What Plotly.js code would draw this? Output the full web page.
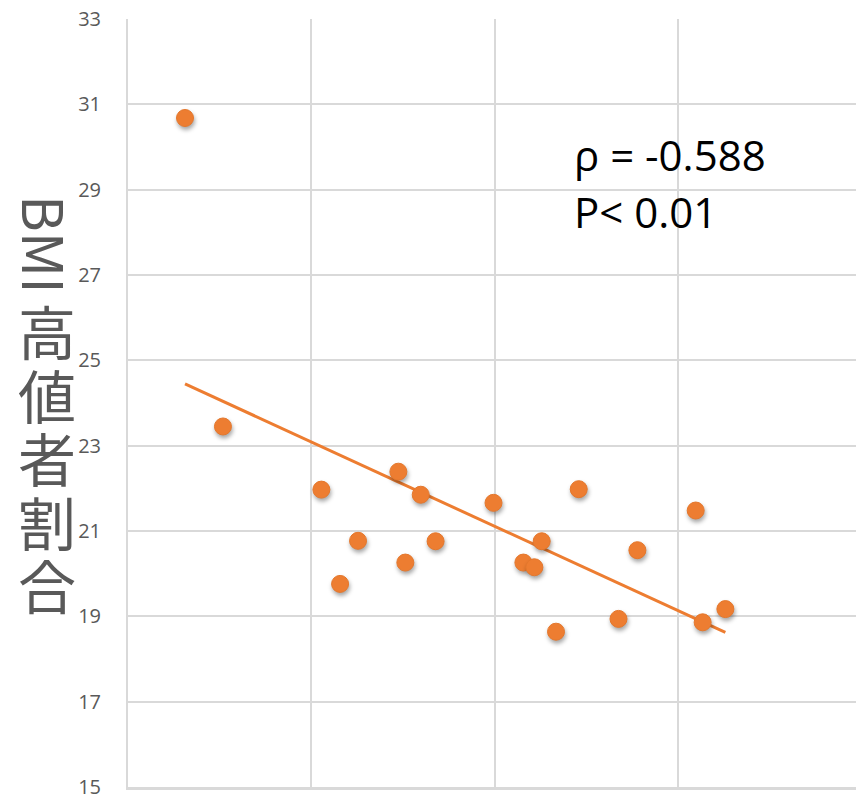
<!DOCTYPE html>
<html>
<head>
<meta charset="utf-8">
<script src="https://cdn.plot.ly/plotly-3.0.1.min.js"></script>
<style>
html,body{margin:0;padding:0;background:#fff;overflow:hidden;}
#chart{width:856px;height:794px;}
.scatterlayer .trace:last-child .points path{filter:drop-shadow(1px 3px 2px rgba(0,0,0,0.35));}
</style>
</head>
<body>
<div id="chart"></div>
<script>
// Data (x axis in grid units, y = BMI高値者割合)
const xValues = [0.311, 0.518, 1.055, 1.157, 1.255, 1.475, 1.513, 1.597, 1.678, 1.994, 2.157, 2.217, 2.257, 2.335, 2.459, 2.676, 2.779, 3.097, 3.135, 3.259];
const yValues = [30.68, 23.45, 21.97, 19.76, 20.77, 22.39, 20.26, 21.85, 20.76, 21.66, 20.26, 20.15, 20.76, 18.64, 21.98, 18.94, 20.55, 21.48, 18.86, 19.17];
const yTicks = [15, 17, 19, 21, 23, 25, 27, 29, 31, 33];
const statLines = ["ρ = -0.588", "P< 0.01"];
const yTitleLatin = "BMI";
const yTitleKanji = "高値者割合";

// least-squares trend line computed from the data
const n = xValues.length;
const mx = xValues.reduce((a, b) => a + b, 0) / n;
const my = yValues.reduce((a, b) => a + b, 0) / n;
let sxy = 0, sxx = 0;
for (let i = 0; i < n; i++) { sxy += (xValues[i] - mx) * (yValues[i] - my); sxx += (xValues[i] - mx) ** 2; }
const slope = sxy / sxx, intercept = my - slope * mx;
const xMin = Math.min(...xValues), xMax = Math.max(...xValues);
const trendX = [xMin, xMax];
const trendY = trendX.map(v => intercept + slope * v);

const W = 856, H = 794, ML = 128, MR = 0, MT = 19, MB = 7;
const plotW = W - ML - MR, plotH = H - MT - MB;
const pxToPaperX = px => (px - ML) / plotW;
const pxToPaperY = py => 1 - (py - MT) / plotH;

const orange = '#ED7D31';
const grey = '#595959';

const KANJI_SIZE = 58, KANJI_STEP = 63.5, KANJI_FIRST = 330;
const kanjiChars = Array.from(yTitleKanji);
const nominalStep = 1.3 * KANJI_SIZE;
const kanjiBlockCenter = KANJI_FIRST + (kanjiChars.length - 1) * nominalStep / 2;

const annotations = [
  {
    xref: 'paper', yref: 'paper', x: pxToPaperX(47), y: pxToPaperY(244),
    text: yTitleLatin, textangle: 90, showarrow: false, xanchor: 'center', yanchor: 'middle',
    font: {family: 'Noto Sans CJK JP', size: 56, color: grey}
  },
  {
    xref: 'paper', yref: 'paper', x: pxToPaperX(47), y: pxToPaperY(kanjiBlockCenter),
    text: kanjiChars.join('<br>'), showarrow: false, xanchor: 'center', yanchor: 'middle',
    font: {family: 'Noto Sans CJK JP', size: KANJI_SIZE, color: grey}
  }
];
statLines.forEach((t, i) => {
  annotations.push({
    xref: 'paper', yref: 'paper', x: pxToPaperX(572), y: pxToPaperY(154 + i * 57),
    text: t, showarrow: false, xanchor: 'left', yanchor: 'middle',
    font: {family: 'Open Sans', size: 42, color: '#000'}
  });
});

const data = [
  {x: trendX, y: trendY, mode: 'lines', type: 'scatter', line: {color: orange, width: 3}, hoverinfo: 'skip'},
  {x: xValues, y: yValues, mode: 'markers', type: 'scatter',
   marker: {color: orange, size: 17, line: {color: '#E4772C', width: 1}}}
];

const layout = {
  width: W, height: H,
  margin: {l: ML, r: MR, t: MT, b: MB, pad: 0},
  paper_bgcolor: '#fff', plot_bgcolor: '#fff',
  showlegend: false,
  xaxis: {
    range: [0, plotW / 183.3], dtick: 1, tick0: 0,
    showticklabels: false, ticks: '',
    showgrid: true, gridcolor: '#D9D9D9', gridwidth: 2,
    zeroline: false, showline: true, linecolor: '#D9D9D9', linewidth: 3
  },
  yaxis: {
    range: [15, 33], tickvals: yTicks, ticktext: yTicks.map(String),
    ticks: '', ticklabelstandoff: 21, ticklabeloverflow: 'allow',
    tickfont: {family: 'Open Sans', size: 20, color: grey},
    showgrid: true, gridcolor: '#D9D9D9', gridwidth: 2,
    zeroline: false, showline: true, linecolor: '#D9D9D9', linewidth: 2
  },
  annotations: annotations
};

Plotly.newPlot('chart', data, layout, {displayModeBar: false, staticPlot: true}).then(() => {
  // tighten the vertical stacking of the kanji title to match the reference
  document.querySelectorAll('.annotation text').forEach(t => {
    if (t.textContent.indexOf(kanjiChars[0]) === -1) return;
    t.querySelectorAll('tspan.line').forEach((ts, i) => {
      ts.setAttribute('dy', (i * KANJI_STEP) + 'px');
    });
  });
});
</script>
</body>
</html>
